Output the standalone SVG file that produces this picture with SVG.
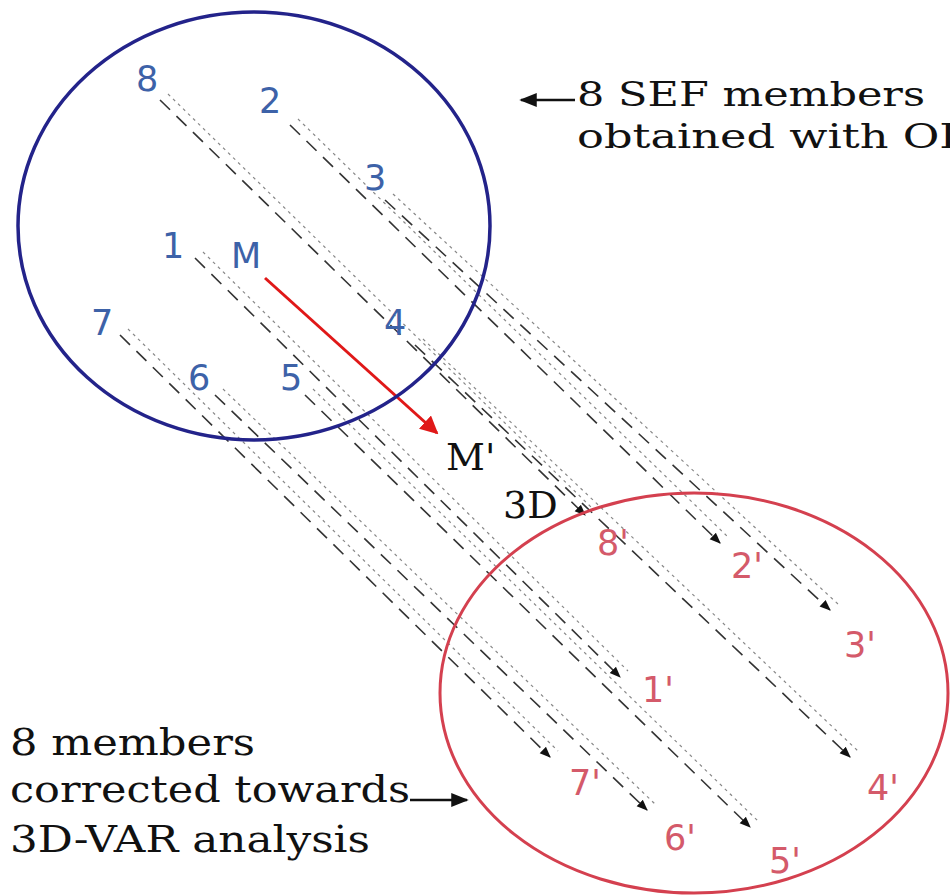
<svg xmlns="http://www.w3.org/2000/svg" width="950" height="896" viewBox="0 0 950 896">
<defs>
<marker id="ah" viewBox="0 0 10 10" refX="9" refY="5" markerWidth="7" markerHeight="7" orient="auto"><path d="M0,1 L10,5 L0,9 z" fill="#111"/></marker>
<marker id="ahr" viewBox="0 0 10 10" refX="9" refY="5" markerWidth="6" markerHeight="6" orient="auto"><path d="M0,0 L10,5 L0,10 z" fill="#e01818"/></marker>
</defs>
<style>
.bl{font-family:"DejaVu Sans","Liberation Sans",sans-serif;font-size:35px;fill:#3d62a8}
.rl{font-family:"DejaVu Sans","Liberation Sans",sans-serif;font-size:35px;fill:#d45a6a}
.tx{font-family:"DejaVu Serif","Liberation Serif",serif;font-size:38px;fill:#111}
.ts{font-family:"DejaVu Serif","Liberation Serif",serif;font-size:34px;fill:#111}
.d1{stroke:#333;stroke-width:1.6;stroke-dasharray:14 9;fill:none}
.d2{stroke:#888;stroke-width:1.2;stroke-dasharray:3 4;fill:none}
</style>
<rect width="950" height="896" fill="#fff"/>
<g id="connectors">
<line class="d2" x1="168" y1="94" x2="593" y2="509"/>
<line class="d1" x1="160" y1="100" x2="585" y2="515" marker-end="url(#ah)"/>
<line class="d2" x1="298" y1="119" x2="728" y2="537"/>
<line class="d1" x1="290" y1="125" x2="720" y2="543" marker-end="url(#ah)"/>
<line class="d2" x1="393" y1="194" x2="838" y2="604"/>
<line class="d1" x1="385" y1="200" x2="830" y2="610" marker-end="url(#ah)"/>
<line class="d2" x1="203" y1="252" x2="628" y2="671"/>
<line class="d1" x1="195" y1="258" x2="620" y2="677" marker-end="url(#ah)"/>
<line class="d2" x1="423" y1="339" x2="858" y2="751"/>
<line class="d1" x1="415" y1="345" x2="850" y2="757" marker-end="url(#ah)"/>
<line class="d2" x1="128" y1="329" x2="558" y2="751"/>
<line class="d1" x1="120" y1="335" x2="550" y2="757" marker-end="url(#ah)"/>
<line class="d2" x1="223" y1="389" x2="655" y2="804"/>
<line class="d1" x1="215" y1="395" x2="647" y2="810" marker-end="url(#ah)"/>
<line class="d2" x1="313" y1="389" x2="758" y2="821"/>
<line class="d1" x1="305" y1="395" x2="750" y2="827" marker-end="url(#ah)"/>
<line x1="265" y1="278" x2="437" y2="433" stroke="#e01818" stroke-width="3" marker-end="url(#ahr)"/>
<line x1="575" y1="100" x2="521" y2="100" stroke="#111" stroke-width="2.5" marker-end="url(#ah)"/>
<line x1="410" y1="800" x2="467" y2="800" stroke="#111" stroke-width="2.5" marker-end="url(#ah)"/>
</g>
<g id="blue-ensemble">
<ellipse cx="254" cy="226" rx="236" ry="214" fill="none" stroke="#23238a" stroke-width="3.5"/>
<text class="bl" x="136" y="91">8</text>
<text class="bl" x="259" y="113">2</text>
<text class="bl" x="364" y="190">3</text>
<text class="bl" x="162" y="258">1</text>
<text class="bl" x="231" y="268">M</text>
<text class="bl" x="91" y="335">7</text>
<text class="bl" x="188" y="390">6</text>
<text class="bl" x="280" y="390">5</text>
<text class="bl" x="384" y="335">4</text>
</g>
<g id="red-ensemble">
<ellipse cx="694" cy="693" rx="254" ry="200" fill="none" stroke="#d4404f" stroke-width="3"/>
<text class="rl" x="597" y="555">8'</text>
<text class="rl" x="731" y="578">2'</text>
<text class="rl" x="844" y="657">3'</text>
<text class="rl" x="642" y="702">1'</text>
<text class="rl" x="569" y="795">7'</text>
<text class="rl" x="664" y="850">6'</text>
<text class="rl" x="769" y="873">5'</text>
<text class="rl" x="867" y="800">4'</text>
</g>
<g id="label-sef">
<text class="ts" x="577" y="106" textLength="348" lengthAdjust="spacingAndGlyphs">8 SEF members</text>
<text class="ts" x="577" y="148" textLength="380" lengthAdjust="spacingAndGlyphs">obtained with OI</text>
</g>
<g id="label-mprime"><text class="tx" x="446" y="470">M'</text></g>
<g id="label-3d"><text class="tx" x="503" y="518">3D</text></g>
<g id="label-corrected">
<text class="tx" x="10" y="755" textLength="245" lengthAdjust="spacingAndGlyphs">8 members</text>
<text class="tx" x="10" y="802" textLength="400" lengthAdjust="spacingAndGlyphs">corrected towards</text>
<text class="tx" x="10" y="852" textLength="360" lengthAdjust="spacingAndGlyphs">3D-VAR analysis</text>
</g>
</svg>
